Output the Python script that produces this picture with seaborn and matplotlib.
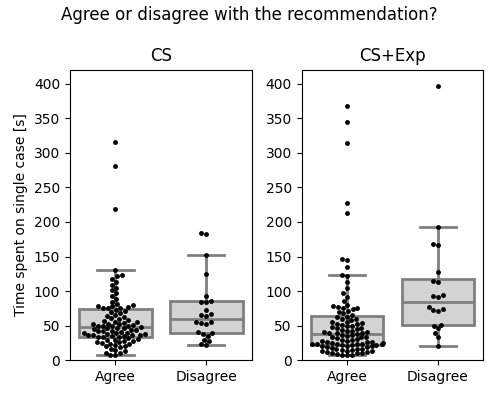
import numpy as np
import pandas as pd
import matplotlib
matplotlib.use("Agg")
import matplotlib.pyplot as plt
import seaborn as sns

groups = ["Agree", "Disagree"]
panels = ["CS", "CS+Exp"]

# time per case in seconds
cs_agree = [316, 281, 219,
            130, 123, 122, 118, 113, 109, 105, 101, 97, 93, 89, 85,
            82, 80, 79, 78, 77, 76, 75, 75,
            73, 72, 70, 68, 66, 64, 62, 61, 60, 58, 57, 56, 55, 54, 53, 52, 52, 51,
            50, 50, 49, 49, 48,
            47, 46, 46, 45, 44, 44, 43, 42, 42, 41, 40, 40, 39, 38, 38, 37, 37, 36,
            36, 35, 35, 34, 34,
            33, 32, 31, 30, 29, 28, 28, 27, 26, 25, 24, 23, 22, 21, 20, 19, 17, 15,
            13, 11, 10, 8, 7]
cs_disagree = [184, 182, 152, 125, 93, 86, 85, 85, 73, 67, 66, 64, 56, 55, 54, 53,
               41, 39, 38, 35, 30, 28, 23, 22]
exp_agree = [367, 344, 314, 228, 213, 146, 145, 135,
             124, 122, 113, 104, 97, 92, 86, 80, 78, 77, 76, 75, 74, 72, 70, 68, 66,
             63, 62, 60, 59, 58, 56, 55, 54, 53, 52, 51, 50, 49, 48, 47, 46, 45, 44,
             43, 42, 41, 41, 40, 39, 39,
             38, 37, 36, 35, 34, 33, 33, 32, 31, 30, 29, 28, 28, 27, 26, 26, 25, 25,
             24, 24, 24, 23, 23, 23, 22,
             22, 22, 21, 21, 20, 19, 19, 18, 17, 17, 16, 15, 15, 14, 13, 13, 12, 12,
             11, 10, 10, 9, 8, 8, 7]
exp_disagree = [397, 193, 168, 166, 127, 115, 113, 94, 93, 92, 77, 74, 73, 71,
                51, 50, 46, 40, 34, 21]

data = {
    "CS": {"Agree": cs_agree, "Disagree": cs_disagree},
    "CS+Exp": {"Agree": exp_agree, "Disagree": exp_disagree},
}

fig, axes = plt.subplots(1, 2, figsize=(4.98, 3.99), dpi=100)
fig.subplots_adjust(left=0.1406, right=0.9705, bottom=0.097, top=0.825, wspace=0.275)

for ax, panel in zip(axes, panels):
    rows = []
    for g in groups:
        for v in data[panel][g]:
            rows.append({"answer": g, "time": v})
    df = pd.DataFrame(rows)

    sns.boxplot(data=df, x="answer", y="time", order=groups, ax=ax,
                color="lightgray", linecolor="gray", linewidth=2, showfliers=False,
                width=0.8)
    sns.swarmplot(data=df, x="answer", y="time", order=groups, ax=ax,
                  color="black", size=3.5)

    ax.set_ylim(0, 420)
    ax.set_yticks(range(0, 401, 50))
    ax.set_title(panel, fontsize=12)
    ax.set_xlabel("")
    ax.set_ylabel("")

axes[0].set_ylabel("Time spent on single case [s]", fontsize=10)
fig.suptitle("Agree or disagree with the recommendation?", fontsize=12, y=0.985)

plt.savefig("out.png", dpi=100)
